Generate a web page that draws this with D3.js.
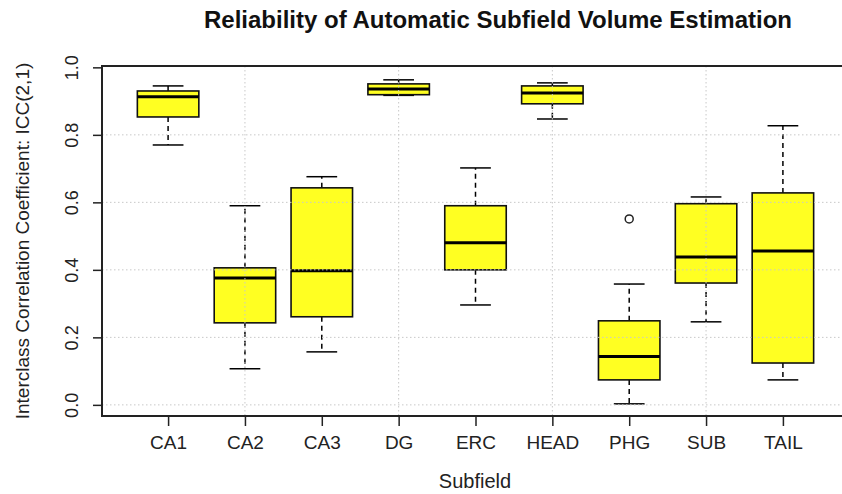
<!DOCTYPE html>
<html>
<head>
<meta charset="utf-8">
<script src="https://cdn.jsdelivr.net/npm/d3@7"></script>
<style>
    body { margin: 0; background: #fff; }
    svg { display: block; font-family: "Liberation Sans", Arial, sans-serif; }
</style>
</head>
<body>
<div id="chart"></div>
<script>
// values
const subfields   = ['CA1', 'CA2', 'CA3', 'DG', 'ERC', 'HEAD', 'PHG', 'SUB', 'TAIL'];
const whiskerLow  = [0.770, 0.107, 0.157, 0.917, 0.296, 0.847, 0.003, 0.246, 0.074];
const q1          = [0.853, 0.243, 0.261, 0.919, 0.400, 0.892, 0.074, 0.361, 0.124];
const medians     = [0.913, 0.376, 0.397, 0.936, 0.480, 0.924, 0.143, 0.438, 0.456];
const q3          = [0.930, 0.406, 0.643, 0.951, 0.590, 0.945, 0.249, 0.596, 0.628];
const whiskerHigh = [0.945, 0.590, 0.676, 0.963, 0.702, 0.954, 0.358, 0.616, 0.827];
const outliers    = [{subfield: 'PHG', value: 0.551}];
const yTicks      = [0.0, 0.2, 0.4, 0.6, 0.8, 1.0];
const gridX       = ['CA2', 'DG', 'HEAD', 'SUB'];
const gridY       = [0.0, 0.2, 0.4, 0.6, 0.8];

const boxes = subfields.map((s, i) => ({
    name: s, lo: whiskerLow[i], q1: q1[i], med: medians[i], q3: q3[i], hi: whiskerHigh[i]
}));

const width = 842, height = 494;
const plot = {left: 102, right: 849, top: 66, bottom: 416};

const svg = d3.select('#chart').append('svg')
    .attr('width', width)
    .attr('height', height);

const xScale = d3.scalePoint()
    .domain(subfields)
    .range([plot.left, plot.right])
    .padding(0.86);

const yScale = d3.scaleLinear()
    .domain([-0.033, 1.004])
    .range([plot.bottom, plot.top]);

const boxW = xScale.step() * 0.8;
const capW = boxW / 2;

// boxes
const g = svg.append('g');
const box = g.selectAll('g.box')
    .data(boxes)
    .join('g')
    .attr('class', 'box')
    .attr('transform', d => `translate(${xScale(d.name)},0)`);

box.append('line')
    .attr('y1', d => yScale(d.q3)).attr('y2', d => yScale(d.hi))
    .attr('stroke', '#000').attr('stroke-width', 1.5).attr('stroke-dasharray', '5,4');
box.append('line')
    .attr('y1', d => yScale(d.q1)).attr('y2', d => yScale(d.lo))
    .attr('stroke', '#000').attr('stroke-width', 1.5).attr('stroke-dasharray', '5,4');
box.append('line')
    .attr('x1', -capW / 2).attr('x2', capW / 2)
    .attr('y1', d => yScale(d.hi)).attr('y2', d => yScale(d.hi))
    .attr('stroke', '#000').attr('stroke-width', 1.5);
box.append('line')
    .attr('x1', -capW / 2).attr('x2', capW / 2)
    .attr('y1', d => yScale(d.lo)).attr('y2', d => yScale(d.lo))
    .attr('stroke', '#000').attr('stroke-width', 1.5);
box.append('rect')
    .attr('x', -boxW / 2)
    .attr('width', boxW)
    .attr('y', d => yScale(d.q3))
    .attr('height', d => yScale(d.q1) - yScale(d.q3))
    .attr('fill', '#ffff22')
    .attr('stroke', '#111').attr('stroke-width', 1.6);
box.append('line')
    .attr('x1', -boxW / 2).attr('x2', boxW / 2)
    .attr('y1', d => yScale(d.med)).attr('y2', d => yScale(d.med))
    .attr('stroke', '#000').attr('stroke-width', 3);

g.selectAll('circle.outlier')
    .data(outliers)
    .join('circle')
    .attr('class', 'outlier')
    .attr('cx', d => xScale(d.subfield))
    .attr('cy', d => yScale(d.value))
    .attr('r', 4)
    .attr('fill', 'none')
    .attr('stroke', '#222').attr('stroke-width', 1.5);

// dotted grid, drawn over the boxes like R's grid()
const grid = svg.append('g')
    .attr('stroke', '#c8c8c8')
    .attr('stroke-width', 1)
    .attr('stroke-dasharray', '1.5,2.5');
grid.selectAll('line.gy')
    .data(gridY)
    .join('line')
    .attr('x1', plot.left).attr('x2', plot.right)
    .attr('y1', d => yScale(d)).attr('y2', d => yScale(d));
grid.selectAll('line.gx')
    .data(gridX)
    .join('line')
    .attr('x1', d => xScale(d)).attr('x2', d => xScale(d))
    .attr('y1', plot.top).attr('y2', plot.bottom);

// frame
svg.append('rect')
    .attr('x', plot.left).attr('y', plot.top)
    .attr('width', plot.right - plot.left)
    .attr('height', plot.bottom - plot.top)
    .attr('fill', 'none')
    .attr('stroke', '#222').attr('stroke-width', 2);

// axes
const xAxis = d3.axisBottom(xScale).tickSize(10).tickPadding(10);
const xAxisG = svg.append('g')
    .attr('transform', `translate(0,${plot.bottom})`)
    .call(xAxis);
xAxisG.select('.domain').remove();
xAxisG.selectAll('line').attr('stroke', '#222').attr('stroke-width', 1.5);
xAxisG.selectAll('text')
    .attr('font-size', 19).attr('fill', '#222')
    .attr('font-family', '"Liberation Sans", Arial, sans-serif');

const yAxis = d3.axisLeft(yScale)
    .tickValues(yTicks)
    .tickSize(9)
    .tickFormat(d3.format('.1f'));
const yAxisG = svg.append('g')
    .attr('transform', `translate(${plot.left},0)`)
    .call(yAxis);
yAxisG.select('.domain').remove();
yAxisG.selectAll('line').attr('stroke', '#222').attr('stroke-width', 1.5);
yAxisG.selectAll('text')
    .attr('font-size', 18).attr('fill', '#222')
    .attr('font-family', '"Liberation Sans", Arial, sans-serif')
    .attr('x', 0).attr('dy', 0)
    .attr('text-anchor', 'middle')
    .attr('transform', 'translate(-24,0) rotate(-90)');

// titles
svg.append('text')
    .attr('x', 498).attr('y', 28)
    .attr('text-anchor', 'middle')
    .attr('font-size', 24).attr('font-weight', 'bold').attr('fill', '#111')
    .text('Reliability of Automatic Subfield Volume Estimation');

svg.append('text')
    .attr('x', 475).attr('y', 488)
    .attr('text-anchor', 'middle')
    .attr('font-size', 20).attr('fill', '#222')
    .text('Subfield');

svg.append('text')
    .attr('transform', `translate(29,${(plot.top + plot.bottom) / 2}) rotate(-90)`)
    .attr('text-anchor', 'middle')
    .attr('font-size', 19).attr('fill', '#222')
    .text('Interclass Correlation Coefficient: ICC(2,1)');
</script>
</body>
</html>
